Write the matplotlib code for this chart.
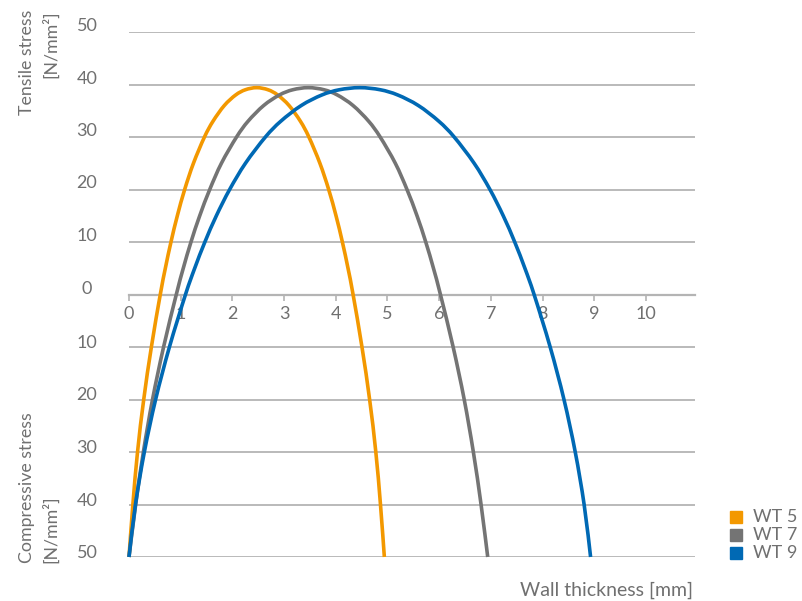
import matplotlib
matplotlib.use("Agg")
import numpy as np
from matplotlib import pyplot as plt
from matplotlib import transforms
from matplotlib.patches import Rectangle, PathPatch
from matplotlib.path import Path

plt.rcParams['font.family'] = ['Lato', 'DejaVu Sans']

# values (x = wall thickness mm, y = stress N/mm2, compressive negative)
stress_levels = [-50, -40, -30, -20, -10, 0, 5, 10, 15, 20, 25, 30, 33, 36, 38, 39, 39.4,
                 39, 38, 36, 33, 30, 25, 20, 15, 10, 5, 0, -10, -20, -30, -40, -50]

wt5_x = [0, 0.075, 0.165, 0.285, 0.433, 0.605, 0.703, 0.812, 0.935, 1.077, 1.247, 1.46,
         1.625, 1.844, 2.063, 2.252, 2.47,
         2.689, 2.877, 3.096, 3.316, 3.48, 3.693, 3.863, 4.005, 4.128, 4.237, 4.335,
         4.507, 4.655, 4.775, 4.865, 4.94]
wt7_x = [0, 0.129, 0.278, 0.455, 0.669, 0.915, 1.05, 1.199, 1.368, 1.562, 1.788, 2.081,
         2.303, 2.606, 2.909, 3.169, 3.47,
         3.772, 4.031, 4.334, 4.637, 4.859, 5.152, 5.378, 5.572, 5.741, 5.89, 6.025,
         6.271, 6.485, 6.662, 6.811, 6.94]
wt9_x = [0, 0.125, 0.297, 0.515, 0.782, 1.093, 1.271, 1.468, 1.69, 1.947, 2.253, 2.639,
         2.936, 3.333, 3.73, 4.07, 4.465,
         4.86, 5.2, 5.597, 5.994, 6.291, 6.677, 6.983, 7.24, 7.462, 7.659, 7.837,
         8.148, 8.415, 8.633, 8.805, 8.93]

series_names = ['WT 5', 'WT 7', 'WT 9']
series_colors = ['#f39800', '#747474', '#0069b4']

x_ticks = [0, 1, 2, 3, 4, 5, 6, 7, 8, 9, 10]
y_ticks = [50, 40, 30, 20, 10, 0, -10, -20, -30, -40, -50]
y_tick_labels = ['50', '40', '30', '20', '10', '0', '10', '20', '30', '40', '50']

grid_color = '#b4b4b4'
text_color = '#707070'


def smooth_path(xs, ys):
    # smoothed line through the points (bezier segments, like a spreadsheet "smoothed line")
    pts = np.column_stack([xs, ys]).astype(float)
    n = len(pts)
    verts = [pts[0]]
    codes = [Path.MOVETO]
    for i in range(n - 1):
        p0 = pts[i - 1] if i > 0 else pts[i]
        p1 = pts[i]
        p2 = pts[i + 1]
        p3 = pts[i + 2] if i + 2 < n else pts[i + 1]
        verts += [p1 + (p2 - p0) / 6, p2 - (p3 - p1) / 6, p2]
        codes += [Path.CURVE4] * 3
    return Path(verts, codes)


fig = plt.figure(figsize=(8.02, 6.01), dpi=100)
ax = fig.add_axes([129 / 802, 1 - 557 / 601, (695 - 129) / 802, (557 - 32) / 601])

for xs, c in zip([wt5_x, wt7_x, wt9_x], series_colors):
    patch = PathPatch(smooth_path(xs, stress_levels), facecolor='none', edgecolor=c, lw=2.6,
                      capstyle='butt', clip_on=False, zorder=3)
    ax.add_patch(patch)

ax.set_xlim(0, 10.95)
ax.set_ylim(-50, 50)

for s in ['top', 'right', 'left']:
    ax.spines[s].set_visible(False)
ax.spines['bottom'].set_position(('data', 0))
ax.spines['bottom'].set_color(grid_color)
ax.spines['bottom'].set_linewidth(1.6)

ax.set_xticks(x_ticks)
ax.set_xticklabels([str(t) for t in x_ticks])
ax.tick_params(axis='x', direction='out', length=4, width=1.2, color=grid_color,
               pad=4, labelsize=13, labelcolor=text_color)

ax.set_yticks(y_ticks)
ax.set_yticklabels([])
ax.tick_params(axis='y', length=0)
ax.grid(axis='y', color=grid_color, lw=1.3)
ax.set_axisbelow(True)

# y labels sit a little above their grid lines
blend = transforms.blended_transform_factory(fig.transFigure, ax.transData)
for v, lab in zip(y_ticks, y_tick_labels):
    dy = 6 if v >= 0 else 4
    tr = blend + transforms.ScaledTranslation(0, dy / 100, fig.dpi_scale_trans)
    ax.text(87 / 802, v, lab, transform=tr, ha='center', va='center',
            fontsize=13, color=text_color, clip_on=False)

# axis titles
fig.text(27 / 802, 1 - 10 / 601, 'Tensile stress', rotation=90, ha='center', va='top',
         fontsize=12.8, color=text_color)
fig.text(51 / 802, 1 - 10 / 601, '[N/mm²]', rotation=90, ha='center', va='top',
         fontsize=12.8, color=text_color)
fig.text(27 / 802, 1 - 563 / 601, 'Compressive stress', rotation=90, ha='center', va='bottom',
         fontsize=12.8, color=text_color)
fig.text(51 / 802, 1 - 563 / 601, '[N/mm²]', rotation=90, ha='center', va='bottom',
         fontsize=12.8, color=text_color)
fig.text(693 / 802, 1 - 590 / 601, 'Wall thickness [mm]', ha='right', va='center',
         fontsize=14, color=text_color)

# legend
for i, (name, c) in enumerate(zip(series_names, series_colors)):
    yc = 517 + i * 18
    fig.patches.append(Rectangle((730 / 802, 1 - (yc + 6) / 601), 12 / 802, 12 / 601,
                                 transform=fig.transFigure, color=c))
    fig.text(753 / 802, 1 - yc / 601, name, ha='left', va='center',
             fontsize=13, color=text_color)

fig.savefig('out.png', dpi=100)
